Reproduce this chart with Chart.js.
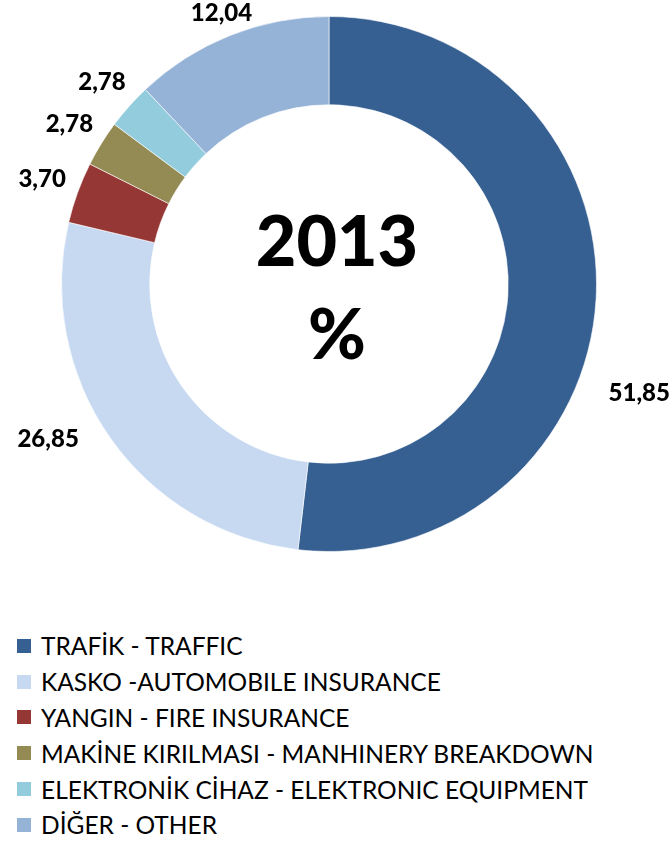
<!DOCTYPE html>
<html>
<head>
<meta charset="UTF-8">
<title>2013 %</title>
<script src="https://cdn.jsdelivr.net/npm/chart.js"></script>
<style>
  html, body { margin: 0; padding: 0; background: #fff; }
  body { width: 671px; height: 843px; overflow: hidden; font-family: Lato, "Open Sans", sans-serif; position: relative; }
  #legend { list-style: none; margin: 0; padding: 0; position: absolute; left: 17px; top: 628px; }
  #legend li { display: flex; align-items: center; height: 35.8px; font-size: 24.5px; color: #000; white-space: nowrap; }
  #legend .box { width: 14px; height: 14px; margin-right: 10px; flex: none; }
</style>
</head>
<body>
<canvas id="pie" width="671" height="570"></canvas>
<ul id="legend"></ul>
<script>
  const categories = [
    'TRAFİK - TRAFFIC',
    'KASKO -AUTOMOBILE INSURANCE',
    'YANGIN - FIRE INSURANCE',
    'MAKİNE KIRILMASI - MANHINERY BREAKDOWN',
    'ELEKTRONİK CİHAZ - ELEKTRONIC EQUIPMENT',
    'DİĞER - OTHER'
  ];
  const shares = [51.85, 26.85, 3.70, 2.78, 2.78, 12.04];
  const colors = ['#376092', '#C6D9F1', '#953735', '#948A54', '#93CDDD', '#95B3D7'];
  const centerLines = ['2013', '%'];

  // value labels outside the ring, placed from each arc's mid angle
  const outsideLabels = {
    id: 'outsideLabels',
    afterDatasetsDraw(chart, args, opts) {
      const ctx = chart.ctx;
      const meta = chart.getDatasetMeta(0);
      ctx.save();
      ctx.font = opts.font;
      ctx.fillStyle = '#000';
      ctx.textAlign = 'center';
      ctx.textBaseline = 'middle';
      meta.data.forEach((arc, i) => {
        const p = arc.getProps(['x', 'y', 'startAngle', 'endAngle', 'outerRadius'], true);
        const mid = (p.startAngle + p.endAngle) / 2 + (opts.turn[i] || 0) * Math.PI / 180;
        const text = shares[i].toFixed(2).replace('.', ',');
        const hw = ctx.measureText(text).width / 2;
        const c = Math.cos(mid), s = Math.sin(mid);
        const r = p.outerRadius + opts.gap + (opts.push[i] || 0) + Math.abs(c) * hw + Math.abs(s) * opts.half;
        ctx.fillText(text, p.x + c * r, p.y + s * r);
      });
      ctx.restore();
    }
  };

  const centerText = {
    id: 'centerText',
    afterDraw(chart, args, opts) {
      const arc = chart.getDatasetMeta(0).data[0];
      const ctx = chart.ctx;
      ctx.save();
      ctx.font = opts.font;
      ctx.fillStyle = '#000';
      ctx.textAlign = 'center';
      ctx.textBaseline = 'middle';
      centerLines.forEach((t, i) => {
        ctx.fillText(t, arc.x + opts.dx, arc.y + opts.dy[i]);
      });
      ctx.restore();
    }
  };

  const chart = new Chart(document.getElementById('pie'), {
    type: 'doughnut',
    data: {
      labels: categories,
      datasets: [{
        data: shares,
        backgroundColor: colors,
        borderColor: 'rgba(255,255,255,0.6)',
        borderWidth: 1
      }]
    },
    options: {
      responsive: false,
      animation: false,
      cutout: '67%',
      layout: { padding: { top: 15, bottom: 17, left: 61, right: 74 } },
      plugins: {
        legend: { display: false },
        tooltip: { enabled: false },
        outsideLabels: { font: '900 24px Lato', gap: 12, half: 10, turn: [16, 6, 0, 0, 0, 0], push: [17, 10, 0, 0, 0, -9] },
        centerText: { font: '900 70px Lato', dx: 8, dy: [-41, 52] }
      }
    },
    plugins: [outsideLabels, centerText]
  });

  // legend as a plain list, one entry per row
  const legend = document.getElementById('legend');
  chart.data.labels.forEach((label, i) => {
    const li = document.createElement('li');
    const box = document.createElement('span');
    box.className = 'box';
    box.style.background = chart.data.datasets[0].backgroundColor[i];
    li.appendChild(box);
    li.appendChild(document.createTextNode(label));
    legend.appendChild(li);
  });
</script>
</body>
</html>
